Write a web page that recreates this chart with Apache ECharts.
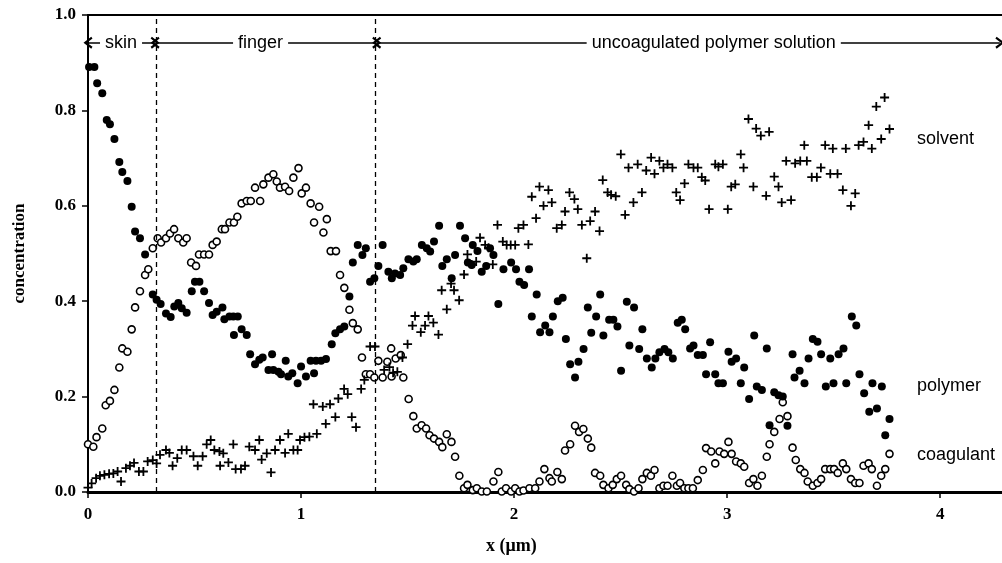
<!DOCTYPE html>
<html>
<head>
<meta charset="utf-8">
<script src="https://cdn.jsdelivr.net/npm/echarts@6/dist/echarts.min.js"></script>
<style>
  html, body { margin: 0; padding: 0; background: #fff; }
  #chart { width: 1002px; height: 563px; }
</style>
</head>
<body>
<div id="chart"></div>
<script>
// points, [x (um), concentration]
var solvent = [
  [0,0.009],[0.017,0.018],[0.038,0.029],[0.056,0.034],[0.077,0.036],[0.099,0.038],[0.119,0.039],[0.139,0.043],
  [0.155,0.022],[0.178,0.05],[0.197,0.055],[0.216,0.061],[0.239,0.043],[0.26,0.043],[0.28,0.064],[0.304,0.067],
  [0.322,0.06],[0.338,0.078],[0.366,0.088],[0.382,0.082],[0.397,0.055],[0.419,0.071],[0.44,0.088],[0.463,0.088],
  [0.495,0.075],[0.515,0.055],[0.538,0.075],[0.557,0.1],[0.576,0.109],[0.593,0.088],[0.617,0.085],[0.62,0.055],
  [0.635,0.081],[0.659,0.062],[0.682,0.1],[0.693,0.048],[0.718,0.048],[0.737,0.055],[0.757,0.095],[0.784,0.088],
  [0.804,0.109],[0.815,0.068],[0.839,0.081],[0.859,0.041],[0.878,0.088],[0.901,0.109],[0.925,0.082],[0.94,0.122],
  [0.964,0.088],[0.984,0.088],[0.995,0.109],[1.016,0.115],[1.039,0.116],[1.058,0.184],[1.074,0.122],[1.102,0.179],
  [1.116,0.143],[1.136,0.184],[1.161,0.157],[1.175,0.196],[1.202,0.216],[1.219,0.205],[1.238,0.157],[1.258,0.136],
  [1.282,0.216],[1.297,0.235],[1.324,0.305],[1.347,0.305],[1.39,0.256],[1.415,0.262],[1.432,0.25],[1.452,0.252],
  [1.476,0.282],[1.5,0.31],[1.523,0.349],[1.535,0.369],[1.562,0.335],[1.582,0.349],[1.598,0.369],[1.621,0.355],
  [1.645,0.33],[1.66,0.423],[1.684,0.383],[1.704,0.437],[1.718,0.423],[1.742,0.402],[1.765,0.456],[1.781,0.498],
  [1.801,0.477],[1.822,0.483],[1.84,0.533],[1.864,0.518],[1.88,0.512],[1.9,0.477],[1.922,0.56],[1.947,0.525],
  [1.965,0.518],[1.984,0.518],[2.005,0.518],[2.02,0.553],[2.044,0.56],[2.067,0.519],[2.083,0.619],[2.103,0.574],
  [2.119,0.64],[2.138,0.6],[2.161,0.633],[2.177,0.607],[2.2,0.553],[2.224,0.56],[2.239,0.588],[2.26,0.628],
  [2.283,0.614],[2.299,0.593],[2.318,0.56],[2.341,0.49],[2.357,0.568],[2.38,0.588],[2.401,0.547],[2.416,0.654],
  [2.439,0.628],[2.455,0.623],[2.477,0.62],[2.501,0.708],[2.521,0.581],[2.537,0.68],[2.56,0.607],[2.58,0.687],
  [2.6,0.628],[2.62,0.674],[2.643,0.701],[2.659,0.667],[2.682,0.694],[2.701,0.68],[2.72,0.687],[2.743,0.68],
  [2.761,0.628],[2.779,0.612],[2.8,0.647],[2.818,0.687],[2.842,0.68],[2.862,0.68],[2.881,0.66],[2.897,0.653],
  [2.915,0.593],[2.944,0.687],[2.959,0.682],[2.98,0.687],[3.003,0.593],[3.019,0.64],[3.038,0.645],[3.064,0.708],
  [3.077,0.68],[3.1,0.782],[3.123,0.64],[3.136,0.762],[3.158,0.747],[3.183,0.621],[3.197,0.755],[3.221,0.661],
  [3.241,0.64],[3.256,0.607],[3.277,0.694],[3.3,0.612],[3.319,0.689],[3.343,0.694],[3.362,0.727],[3.374,0.694],
  [3.397,0.66],[3.421,0.66],[3.44,0.68],[3.46,0.727],[3.484,0.667],[3.496,0.72],[3.518,0.667],[3.543,0.633],
  [3.557,0.72],[3.581,0.6],[3.601,0.626],[3.617,0.727],[3.64,0.734],[3.664,0.769],[3.679,0.72],[3.7,0.808],
  [3.723,0.74],[3.739,0.827],[3.762,0.761]
];

var polymer = [
  [0.005,0.891],[0.03,0.891],[0.043,0.857],[0.067,0.836],[0.088,0.78],[0.103,0.771],[0.124,0.74],[0.147,0.692],
  [0.161,0.671],[0.185,0.652],[0.205,0.598],[0.221,0.546],[0.244,0.532],[0.268,0.498],[0.304,0.414],[0.322,0.403],
  [0.341,0.394],[0.366,0.374],[0.388,0.367],[0.405,0.389],[0.424,0.396],[0.44,0.385],[0.463,0.376],[0.487,0.421],
  [0.502,0.441],[0.523,0.441],[0.545,0.421],[0.568,0.396],[0.585,0.371],[0.604,0.378],[0.631,0.387],[0.64,0.362],
  [0.664,0.368],[0.682,0.368],[0.685,0.329],[0.703,0.368],[0.721,0.341],[0.745,0.329],[0.761,0.289],[0.784,0.268],
  [0.804,0.277],[0.82,0.282],[0.847,0.256],[0.864,0.289],[0.87,0.256],[0.894,0.252],[0.906,0.247],[0.928,0.275],
  [0.94,0.242],[0.959,0.249],[0.984,0.228],[1.0,0.263],[1.023,0.242],[1.045,0.275],[1.061,0.249],[1.07,0.275],
  [1.094,0.275],[1.117,0.279],[1.144,0.31],[1.161,0.333],[1.183,0.341],[1.203,0.347],[1.227,0.41],[1.243,0.481],
  [1.266,0.518],[1.288,0.497],[1.304,0.511],[1.324,0.441],[1.344,0.448],[1.363,0.474],[1.383,0.518],[1.41,0.462],
  [1.426,0.448],[1.441,0.458],[1.465,0.455],[1.48,0.469],[1.504,0.488],[1.527,0.483],[1.543,0.488],[1.567,0.518],
  [1.59,0.511],[1.606,0.504],[1.624,0.525],[1.648,0.558],[1.663,0.474],[1.684,0.488],[1.707,0.448],[1.723,0.497],
  [1.746,0.558],[1.77,0.532],[1.783,0.481],[1.801,0.476],[1.806,0.518],[1.828,0.505],[1.848,0.462],[1.869,0.474],
  [1.887,0.511],[1.903,0.497],[1.926,0.394],[1.95,0.467],[1.986,0.481],[2.009,0.467],[2.025,0.441],[2.047,0.434],
  [2.07,0.467],[2.083,0.368],[2.106,0.414],[2.122,0.335],[2.146,0.349],[2.166,0.335],[2.182,0.368],[2.205,0.4],
  [2.228,0.407],[2.243,0.321],[2.263,0.268],[2.286,0.24],[2.302,0.273],[2.326,0.3],[2.346,0.387],[2.362,0.334],
  [2.385,0.368],[2.404,0.414],[2.419,0.328],[2.446,0.361],[2.466,0.361],[2.485,0.347],[2.502,0.254],[2.529,0.399],
  [2.541,0.307],[2.563,0.387],[2.587,0.3],[2.602,0.341],[2.623,0.28],[2.646,0.261],[2.663,0.28],[2.682,0.293],
  [2.706,0.3],[2.724,0.293],[2.745,0.28],[2.768,0.355],[2.787,0.361],[2.803,0.341],[2.826,0.301],[2.842,0.307],
  [2.862,0.287],[2.886,0.287],[2.901,0.247],[2.92,0.314],[2.944,0.247],[2.959,0.228],[2.98,0.228],[3.006,0.294],
  [3.021,0.273],[3.042,0.28],[3.064,0.228],[3.08,0.261],[3.103,0.195],[3.127,0.328],[3.139,0.221],[3.163,0.214],
  [3.186,0.301],[3.199,0.14],[3.221,0.209],[3.241,0.203],[3.261,0.2],[3.283,0.139],[3.307,0.289],[3.316,0.24],
  [3.34,0.254],[3.363,0.228],[3.382,0.28],[3.402,0.321],[3.424,0.315],[3.441,0.289],[3.463,0.221],[3.484,0.28],
  [3.499,0.228],[3.523,0.289],[3.546,0.301],[3.559,0.228],[3.585,0.368],[3.606,0.349],[3.621,0.247],[3.643,0.207],
  [3.667,0.168],[3.682,0.228],[3.703,0.175],[3.726,0.221],[3.742,0.119],[3.762,0.153]
];

var coagulant = [
  [0.0,0.1],[0.025,0.095],[0.04,0.115],[0.067,0.133],[0.083,0.182],[0.103,0.191],[0.124,0.214],[0.147,0.261],
  [0.161,0.301],[0.185,0.294],[0.205,0.341],[0.221,0.387],[0.244,0.421],[0.268,0.455],[0.283,0.467],[0.304,0.511],
  [0.327,0.532],[0.343,0.523],[0.366,0.532],[0.385,0.542],[0.404,0.551],[0.424,0.532],[0.447,0.523],[0.463,0.532],
  [0.484,0.481],[0.507,0.474],[0.521,0.498],[0.545,0.498],[0.568,0.498],[0.585,0.518],[0.604,0.525],[0.628,0.551],
  [0.643,0.551],[0.664,0.565],[0.685,0.565],[0.701,0.577],[0.721,0.605],[0.745,0.61],[0.764,0.61],[0.784,0.638],
  [0.808,0.61],[0.823,0.645],[0.847,0.659],[0.87,0.666],[0.886,0.651],[0.901,0.638],[0.925,0.64],[0.944,0.631],
  [0.964,0.659],[0.988,0.679],[1.003,0.626],[1.023,0.638],[1.045,0.605],[1.061,0.565],[1.085,0.598],[1.105,0.544],
  [1.121,0.572],[1.139,0.505],[1.164,0.505],[1.183,0.455],[1.203,0.428],[1.227,0.382],[1.243,0.354],[1.266,0.341],
  [1.286,0.282],[1.304,0.247],[1.324,0.247],[1.344,0.24],[1.363,0.275],[1.383,0.24],[1.405,0.273],[1.423,0.301],
  [1.425,0.242],[1.444,0.28],[1.468,0.287],[1.48,0.24],[1.505,0.195],[1.527,0.159],[1.543,0.133],[1.566,0.14],
  [1.587,0.133],[1.603,0.119],[1.624,0.112],[1.648,0.105],[1.663,0.094],[1.684,0.121],[1.706,0.105],[1.723,0.074],
  [1.743,0.034],[1.765,0.008],[1.781,0.015],[1.806,0.004],[1.825,0.008],[1.848,0.001],[1.872,0.001],[1.903,0.022],
  [1.926,0.042],[1.942,0.001],[1.962,0.008],[1.986,0.001],[2.005,0.008],[2.025,0.001],[2.044,0.003],[2.072,0.008],
  [2.099,0.008],[2.119,0.022],[2.142,0.048],[2.166,0.029],[2.177,0.022],[2.203,0.042],[2.224,0.027],[2.239,0.087],
  [2.263,0.1],[2.286,0.139],[2.305,0.126],[2.325,0.132],[2.346,0.112],[2.362,0.093],[2.38,0.04],[2.404,0.034],
  [2.419,0.015],[2.443,0.008],[2.463,0.015],[2.482,0.027],[2.502,0.034],[2.526,0.015],[2.541,0.006],[2.563,0.001],
  [2.584,0.008],[2.602,0.027],[2.623,0.04],[2.642,0.034],[2.659,0.046],[2.682,0.008],[2.701,0.013],[2.72,0.013],
  [2.743,0.034],[2.764,0.013],[2.779,0.019],[2.799,0.008],[2.818,0.008],[2.839,0.008],[2.862,0.025],[2.886,0.046],
  [2.901,0.092],[2.925,0.085],[2.944,0.06],[2.964,0.085],[2.986,0.08],[3.006,0.105],[3.021,0.08],[3.042,0.064],
  [3.064,0.06],[3.08,0.053],[3.103,0.019],[3.123,0.027],[3.142,0.013],[3.163,0.034],[3.186,0.074],[3.199,0.1],
  [3.221,0.126],[3.246,0.153],[3.261,0.188],[3.283,0.159],[3.307,0.093],[3.322,0.067],[3.343,0.048],[3.363,0.04],
  [3.378,0.022],[3.402,0.013],[3.424,0.019],[3.441,0.027],[3.46,0.048],[3.484,0.048],[3.502,0.048],[3.519,0.04],
  [3.543,0.06],[3.559,0.048],[3.581,0.027],[3.601,0.019],[3.621,0.019],[3.64,0.055],[3.664,0.06],[3.679,0.048],
  [3.703,0.013],[3.723,0.034],[3.742,0.048],[3.762,0.08]
];

var xTicks = ["0", "1", "2", "3", "4"];
var yTicks = ["0.0", "0.2", "0.4", "0.6", "0.8", "1.0"];

// region boundaries and names along the top
var boundaries = [0.315, 1.355];
var regions = [
  { name: "skin", from: 0, to: 0.315, labelX: 0.155 },
  { name: "finger", from: 0.315, to: 1.355, labelX: 0.81 },
  { name: "uncoagulated polymer solution", from: 1.355, to: 4.28, labelX: 2.937 }
];
var regionY = 0.942;

var serif = "Liberation Serif";
var sans = "Liberation Sans";
var chevron = "path://M6,0L12,8L10.2,9.3L6,3.6L1.8,9.3L0,8Z";
var plus = "path://M4,0H6V4H10V6H6V10H4V6H0V4H4Z";

var chart = echarts.init(document.getElementById("chart"));

chart.setOption({
  animation: false,
  grid: { left: 88, right: 0, top: 15, bottom: 71 },
  xAxis: [
    {
      type: "value",
      min: 0,
      max: 4.29,
      interval: 1,
      splitLine: { show: false },
      axisLine: { onZero: false, lineStyle: { color: "#000", width: 3 } },
      axisTick: { length: 6, lineStyle: { color: "#000", width: 1.5 } },
      axisLabel: {
        showMaxLabel: false,
        margin: 14,
        color: "#000",
        fontFamily: serif,
        fontWeight: "bold",
        fontSize: 17,
        formatter: function (v) { return xTicks[Math.round(v)]; }
      }
    },
    {
      type: "value",
      position: "top",
      min: 0,
      max: 4.29,
      axisLine: { show: true, onZero: false, lineStyle: { color: "#000", width: 2 } },
      axisTick: { show: false },
      axisLabel: { show: false },
      splitLine: { show: false }
    }
  ],
  yAxis: {
    type: "value",
    min: 0,
    max: 1,
    interval: 0.2,
    name: "concentration",
    nameLocation: "middle",
    nameGap: 60,
    nameTextStyle: { color: "#000", fontFamily: serif, fontWeight: "bold", fontSize: 17 },
    splitLine: { show: false },
    axisLine: { show: true, lineStyle: { color: "#000", width: 2 } },
    axisTick: { show: true, length: 6, lineStyle: { color: "#000", width: 1.5 } },
    axisLabel: {
      margin: 12,
      color: "#000",
      fontFamily: serif,
      fontWeight: "bold",
      fontSize: 17,
      formatter: function (v) { return yTicks[Math.round(v * 5)]; }
    }
  },
  graphic: [
    { type: "text", left: 917, top: 130, style: { text: "solvent", font: "18px " + sans, fill: "#000" } },
    { type: "text", left: 917, top: 377, style: { text: "polymer", font: "18px " + sans, fill: "#000" } },
    { type: "text", left: 917, top: 446, style: { text: "coagulant", font: "18px " + sans, fill: "#000" } },
    {
      type: "text", left: 486, top: 537,
      style: { text: "x (\u03bcm)", font: "bold 18px " + serif, fill: "#000" }
    }
  ],
  series: [
    {
      name: "coagulant",
      type: "scatter",
      data: coagulant,
      symbol: "circle",
      symbolSize: 7,
      itemStyle: { color: "#fff", borderColor: "#000", borderWidth: 1.6, opacity: 1 },
      markLine: {
        silent: true,
        symbol: "none",
        label: { show: false },
        lineStyle: { color: "#000", width: 1.3, type: [5, 4] },
        data: boundaries.map(function (b) { return { xAxis: b }; })
      }
    },
    {
      name: "solvent",
      type: "scatter",
      data: solvent,
      symbol: plus,
      symbolSize: 9,
      itemStyle: { color: "#000", opacity: 1 }
    },
    {
      name: "polymer",
      type: "scatter",
      data: polymer,
      symbol: "circle",
      symbolSize: 8,
      itemStyle: { color: "#000", opacity: 1 },
      markLine: {
        silent: true,
        symbol: [chevron, chevron],
        symbolSize: [12, 9],
        label: { show: false },
        lineStyle: { color: "#000", width: 1.5, type: "solid" },
        data: regions.map(function (r) {
          return [{ coord: [r.from, regionY] }, { coord: [r.to, regionY] }];
        })
      },
      markPoint: {
        silent: true,
        symbol: "rect",
        symbolSize: 0,
        label: {
          show: true,
          position: "inside",
          formatter: "{b}",
          color: "#000",
          fontFamily: sans,
          fontSize: 18,
          backgroundColor: "#fff",
          padding: [1, 5]
        },
        data: regions.map(function (r) {
          return { name: r.name, coord: [r.labelX, regionY] };
        })
      }
    }
  ]
});
</script>
</body>
</html>
